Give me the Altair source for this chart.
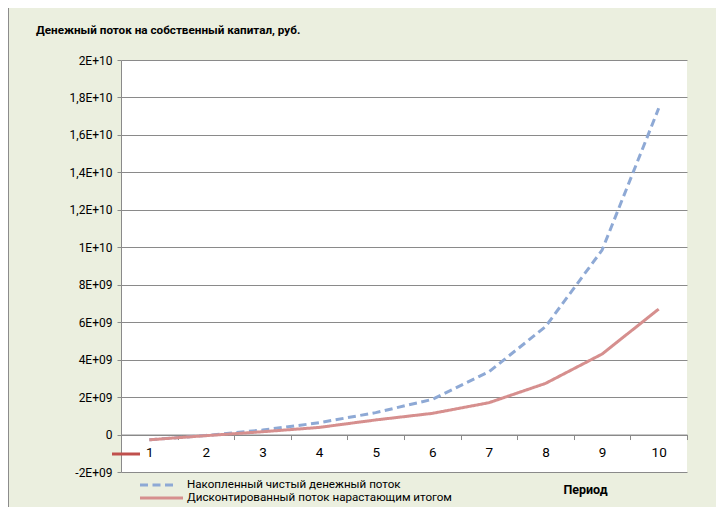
import altair as alt
import pandas as pd

# ---- data ----
periods = ["1", "2", "3", "4", "5", "6", "7", "8", "9", "10"]
series_names = ["Накопленный чистый денежный поток",
                "Дисконтированный поток нарастающим итогом"]
cumulative = [-0.28e9, -0.05e9, 0.24e9, 0.63e9, 1.17e9, 1.88e9, 3.35e9, 5.76e9, 9.85e9, 17.42e9]
discounted = [-0.28e9, -0.06e9, 0.15e9, 0.38e9, 0.78e9, 1.13e9, 1.70e9, 2.73e9, 4.30e9, 6.70e9]
y_tick_values = [-2e9, 0, 2e9, 4e9, 6e9, 8e9, 1e10, 1.2e10, 1.4e10, 1.6e10, 1.8e10, 2e10]
y_tick_labels = ["-2E+09", "0", "2E+09", "4E+09", "6E+09", "8E+09", "1E+10",
                 "1,2E+10", "1,4E+10", "1,6E+10", "1,8E+10", "2E+10"]
title_text = "Денежный поток на собственный капитал, руб."
x_title = "Период"

rows = []
for i, p in enumerate(periods):
    rows.append({"period": i + 1, "series": series_names[0], "value": cumulative[i], "k": 0})
    rows.append({"period": i + 1, "series": series_names[1], "value": discounted[i], "k": 1})
df = pd.DataFrame(rows)

FONT = "Roboto"
GRID = "#8A8A8A"
colors = ["#8EA9D5", "#D68F8E"]
dashes = [[8, 4.5], [1, 0]]

x_vals = [i + 0.5 for i in range(len(periods) + 1)]
x_label_expr = "[" + ",".join("'%s'" % p for p in periods) + ",''][round(datum.value - 0.5)]"
y_label_expr = "[" + ",".join("'%s'" % t for t in y_tick_labels) + "][round((datum.value + 2000000000) / 2000000000)]"

W, H = 566, 412
zero_off = -(H * 2e9 / 2.2e10)

lines = alt.Chart(df).mark_line(strokeWidth=3).encode(
    x=alt.X("period:Q",
            scale=alt.Scale(domain=[0.5, len(periods) + 0.5], nice=False, zero=False),
            axis=alt.Axis(values=x_vals, labelExpr=x_label_expr, offset=zero_off,
                          labelOffset=W / len(periods) / 2, labelFlush=False, labelOverlap=False,
                          labelFont=FONT, labelFontSize=13.5, labelColor="#000000",
                          labelPadding=6, tickSize=5, tickColor=GRID, domainColor=GRID,
                          grid=False, title=x_title, titleFont=FONT, titleFontSize=12.5,
                          titleFontWeight="bold", titleColor="#000000",
                          titleX=464, titleY=54.5, titleBaseline="middle", titleAlign="center")),
    y=alt.Y("value:Q",
            scale=alt.Scale(domain=[-2e9, 2e10], nice=False, zero=False),
            axis=alt.Axis(values=y_tick_values, labelExpr=y_label_expr,
                          labelFont=FONT, labelFontSize=12, labelColor="#000000",
                          labelPadding=5, tickSize=4, tickColor=GRID, domainColor=GRID,
                          grid=True, gridColor=GRID, gridWidth=1, title=None)),
    color=alt.Color("series:N", scale=alt.Scale(domain=series_names, range=colors), legend=None),
    strokeDash=alt.StrokeDash("series:N", scale=alt.Scale(domain=series_names, range=dashes),
                              legend=None),
    order=alt.Order("k:Q"),
)

one = pd.DataFrame({"t": [title_text]})
title = alt.Chart(one).mark_text(align="left", baseline="middle", font=FONT, fontSize=11.7,
                                 fontWeight="bold", color="#000000").encode(
    text="t:N", x=alt.value(-85), y=alt.value(-30))
stray = alt.Chart(one).mark_rule(color="#C0504D", strokeWidth=3).encode(
    x=alt.value(-9), x2=alt.value(19), y=alt.value(394))
border = alt.Chart(one).mark_rule(color="#8C8C8C", strokeWidth=1).encode(
    x=alt.value(-112.5), y=alt.value(-52), y2=alt.value(460))

# legend (manual, drawn from the series names)
legend_layers = []
sym_end = [56, 62]
for i, name in enumerate(series_names):
    ly = 425 + 13 * i
    ldf = pd.DataFrame({"s": [name]})
    legend_layers.append(
        alt.Chart(ldf).mark_rule(color=colors[i], strokeWidth=3, strokeDash=dashes[i]).encode(
            x=alt.value(19), x2=alt.value(sym_end[i]), y=alt.value(ly)))
    legend_layers.append(
        alt.Chart(ldf).mark_text(align="left", baseline="middle", font=FONT, fontSize=11.6,
                                 color="#000000").encode(
            text="s:N", x=alt.value(66), y=alt.value(ly)))

chart = alt.layer(lines, title, stray, border, *legend_layers).properties(
    width=W, height=H,
    autosize=alt.AutoSizeParams(type="none"),
    padding={"left": 113, "top": 52, "right": 29, "bottom": 35},
    background="#EBEFDF",
).configure_view(strokeWidth=0, fill="#FFFFFF")

chart.save("out.html", embed_options={"renderer": "svg", "actions": False})
